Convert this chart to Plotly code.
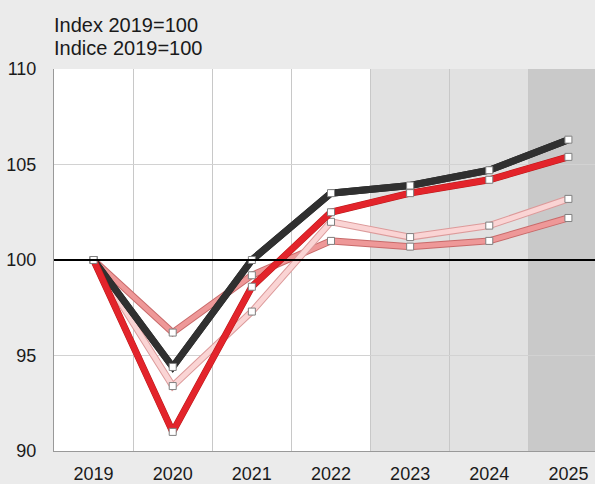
import plotly.graph_objects as go

years = [2019, 2020, 2021, 2022, 2023, 2024, 2025]
year_labels = ["2019", "2020", "2021", "2022", "2023", "2024", "2025"]
black_series = [100, 94.4, 100.0, 103.5, 103.9, 104.7, 106.3]
red_series = [100, 91.0, 98.6, 102.5, 103.5, 104.2, 105.4]
pink_series = [100, 96.2, 99.2, 101.0, 100.7, 101.0, 102.2]
lightpink_series = [100, 93.4, 97.3, 102.0, 101.2, 101.8, 103.2]
y_ticks = [90, 95, 100, 105, 110]
title_lines = ["Index 2019=100", "Indice 2019=100"]

fig = go.Figure()

def add_line(vals, outline, fill, w_out, w_in):
    fig.add_trace(go.Scatter(x=years, y=vals, mode="lines",
                             line=dict(color=outline, width=w_out),
                             hoverinfo="skip", showlegend=False))
    fig.add_trace(go.Scatter(x=years, y=vals, mode="lines+markers",
                             line=dict(color=fill, width=w_in),
                             marker=dict(symbol="square", size=7, color="white",
                                         line=dict(color="#808080", width=1)),
                             showlegend=False))

add_line(pink_series, "#c86a6a", "#ee9898", 7, 5)
add_line(lightpink_series, "#dc9a9a", "#fad4d4", 7, 5)
add_line(black_series, "#222222", "#303030", 7, 7)
add_line(red_series, "#b81818", "#e3242b", 7, 6)

fig.add_shape(type="rect", xref="x", yref="y", x0=2022.5, x1=2024.5, y0=90, y1=110,
              fillcolor="#e1e1e1", line=dict(width=0), layer="below")
fig.add_shape(type="rect", xref="x", yref="y", x0=2024.5, x1=2026, y0=90, y1=110,
              fillcolor="#c9c9c9", line=dict(width=0), layer="below")
fig.add_shape(type="line", xref="paper", yref="y", x0=0, x1=1, y0=100, y1=100,
              line=dict(color="black", width=2), layer="above")

for txt, py in zip(title_lines, [25, 48]):
    fig.add_annotation(text=txt, xref="paper", yref="paper",
                       x=0, y=(451 - py) / 382, xanchor="left", yanchor="middle",
                       showarrow=False, xshift=-2,
                       font=dict(size=20, color="#1a1a1a",
                                 family="Liberation Sans, Arial, sans-serif"))

fig.update_layout(
    width=595, height=484,
    margin=dict(l=54, r=0, t=69, b=33),
    paper_bgcolor="#ebebeb", plot_bgcolor="white",
    font=dict(family="Liberation Sans, Arial, sans-serif", size=18, color="#1a1a1a"),
)
fig.update_xaxes(range=[2018.5, 2025.336], tickvals=years, ticktext=year_labels,
                 showgrid=False, ticks="outside", ticklen=6, tickcolor="rgba(0,0,0,0)",
                 showline=True, linecolor="#999999", linewidth=1, zeroline=False,
                 automargin=False,
                 minor=dict(tickvals=[2019.5, 2020.5, 2021.5, 2022.5, 2023.5, 2024.5],
                            showgrid=True, gridcolor="#c8c8c8", gridwidth=1))
fig.update_yaxes(range=[90, 110], tickvals=y_ticks, showgrid=True, gridcolor="#d2d2d2",
                 ticks="outside", ticklen=13, tickcolor="rgba(0,0,0,0)",
                 showline=True, linecolor="#999999", linewidth=1, zeroline=False,
                 automargin=False)

fig.write_html("out.html", config={"displayModeBar": False},
               post_script="document.body.style.margin='0';")
